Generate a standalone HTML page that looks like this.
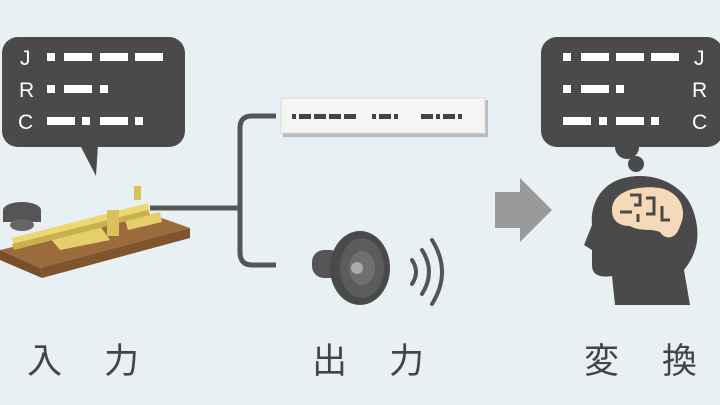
<!DOCTYPE html>
<html><head><meta charset="utf-8"><style>
html,body{margin:0;padding:0;background:#e8f0f4;}
svg{display:block}
</style></head><body>
<svg width="720" height="405" viewBox="0 0 720 405" xmlns="http://www.w3.org/2000/svg">
<rect width="720" height="405" fill="#e8f0f4"/>
<!-- left bubble -->
<rect x="2" y="37" width="183" height="110" rx="16" fill="#4a4a4a"/>
<polygon points="80,145 96,176 98,145" fill="#4a4a4a"/>
<g font-family="Liberation Sans, sans-serif" font-size="21" fill="#fff">
<text x="20" y="65">J</text><text x="19" y="97">R</text><text x="18" y="129">C</text>
</g>
<g fill="#fff">
<rect x="47" y="53" width="8" height="8"/><rect x="64" y="53" width="28" height="8"/><rect x="100" y="53" width="28" height="8"/><rect x="135" y="53" width="28" height="8"/>
<rect x="47" y="85" width="8" height="8"/><rect x="64" y="85" width="28" height="8"/><rect x="100" y="85" width="8" height="8"/>
<rect x="47" y="117" width="28" height="8"/><rect x="82" y="117" width="8" height="8"/><rect x="100" y="117" width="28" height="8"/><rect x="135" y="117" width="8" height="8"/>
</g>
<!-- key -->
<polygon points="0,250 150,214 190,228 40,268" fill="#9c6b3c"/>
<polygon points="0,250 40,268 42,278 0,260" fill="#7a4f28"/>
<polygon points="40,268 190,228 190,238 42,278" fill="#80552e"/>
<polygon points="50,238 100,226 110,240 60,250" fill="#e4cf6a"/>
<polygon points="125,220 160,212 162,222 128,230" fill="#e4cf6a"/>
<polygon points="12,238 148,203 150,213 14,248" fill="#ecd873"/>
<polygon points="12,244 148,210 150,215 14,250" fill="#c9b04b"/>
<rect x="107" y="210" width="12" height="26" fill="#d9c25a"/>
<rect x="134" y="186" width="7" height="14" fill="#d9c25a"/>
<ellipse cx="22" cy="210" rx="19" ry="8" fill="#555"/>
<rect x="3" y="210" width="38" height="12" fill="#555"/>
<ellipse cx="22" cy="225" rx="12" ry="6" fill="#666"/>
<!-- wire and bracket -->
<path d="M150 208 H238" stroke="#555" stroke-width="5" fill="none"/>
<path d="M276 116 H252 Q240 116 240 128 V252 Q240 265 252 265 H276" stroke="#555" stroke-width="5" fill="none"/>
<!-- paper strip -->
<rect x="283" y="100" width="205" height="37" fill="#999" opacity="0.6"/>
<rect x="281" y="98" width="204" height="35" fill="#f5f5f4" stroke="#ddd"/>
<g fill="#444">
<rect x="292" y="114" width="4" height="5"/><rect x="299" y="114" width="12" height="5"/><rect x="314" y="114" width="12" height="5"/><rect x="329" y="114" width="12" height="5"/><rect x="344" y="114" width="12" height="5"/>
<rect x="372" y="114" width="4" height="5"/><rect x="379" y="114" width="12" height="5"/><rect x="394" y="114" width="4" height="5"/>
<rect x="421" y="114" width="12" height="5"/><rect x="436" y="114" width="4" height="5"/><rect x="443" y="114" width="12" height="5"/><rect x="458" y="114" width="4" height="5"/>
</g>
<!-- speaker -->
<rect x="312" y="250" width="30" height="28" rx="12" fill="#555"/>
<ellipse cx="360" cy="268" rx="30" ry="37" fill="#4a4a4a"/>
<ellipse cx="362" cy="268" rx="22" ry="30" fill="#5c5c5c"/>
<ellipse cx="362" cy="268" rx="13" ry="17" fill="#6f6f6f"/>
<circle cx="357" cy="268" r="6" fill="#aaa"/>
<g stroke="#555" stroke-width="4" fill="none" stroke-linecap="round">
<path d="M412 260 Q420 272 412 284"/><path d="M422 250 Q436 272 422 294"/><path d="M432 240 Q452 272 432 304"/>
</g>
<!-- arrow -->
<polygon points="495,192 520,192 520,178 552,210 520,242 520,228 495,228" fill="#9a9a9a"/>
<!-- right bubble -->
<rect x="541" y="37" width="182" height="110" rx="16" fill="#4a4a4a"/>
<circle cx="627" cy="147" r="12" fill="#4a4a4a"/>
<circle cx="636" cy="164" r="8" fill="#4a4a4a"/>
<g fill="#fff">
<rect x="563" y="53" width="8" height="8"/><rect x="581" y="53" width="28" height="8"/><rect x="616" y="53" width="28" height="8"/><rect x="651" y="53" width="28" height="8"/>
<rect x="563" y="85" width="8" height="8"/><rect x="581" y="85" width="28" height="8"/><rect x="616" y="85" width="8" height="8"/>
<rect x="563" y="117" width="28" height="8"/><rect x="599" y="117" width="8" height="8"/><rect x="616" y="117" width="28" height="8"/><rect x="651" y="117" width="8" height="8"/>
</g>
<g font-family="Liberation Sans, sans-serif" font-size="21" fill="#fff">
<text x="694" y="65">J</text><text x="692" y="97">R</text><text x="692" y="129">C</text>
</g>
<!-- head -->
<path d="M640 176 C605 176 590 200 592 225 L584 245 L592 250 L592 265 C592 275 600 278 612 276 L615 305 L690 305 L684 270 C700 250 700 230 693 210 C686 190 665 176 640 176 Z" fill="#4a4a4a"/>
<path d="M612 210 C612 190 640 185 660 188 C680 192 688 210 680 226 C676 240 665 240 660 232 C650 228 640 232 630 226 C618 226 612 220 612 210 Z" fill="#f5d9b8"/>
<g stroke="#4a4a4a" stroke-width="3" fill="none">
<path d="M630 195 h10 v10 h-6"/><path d="M646 198 h8 v16 h-8"/><path d="M620 212 h12"/><path d="M662 206 v14 h8"/><path d="M638 222 v-8"/>
</g>
<!-- labels -->
<g font-family="Liberation Sans, 'Noto Sans CJK JP', sans-serif" font-size="35" fill="#444">
<text x="27" y="373">入</text><text x="104" y="373">力</text>
<text x="312" y="373">出</text><text x="389" y="373">力</text>
<text x="584" y="373">変</text><text x="662" y="373">換</text>
</g>
</svg>
</body></html>
